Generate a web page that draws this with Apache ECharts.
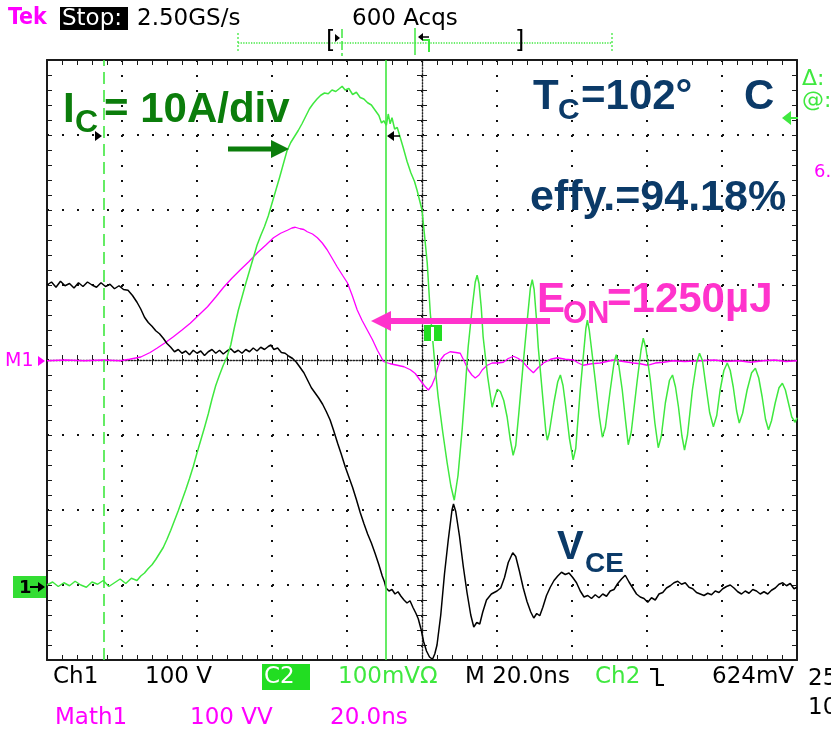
<!DOCTYPE html>
<html>
<head>
<meta charset="utf-8">
<script src="https://cdn.jsdelivr.net/npm/echarts@6/dist/echarts.min.js"></script>
<style>
  html, body { margin: 0; padding: 0; background: #ffffff; }
  #main { width: 831px; height: 730px; }
</style>
</head>
<body>
<div id="main"></div>
<script>
// Turn-on switching waveforms, 20 ns/div, trigger at t = 0 (screen centre).

// Time axis (ns) and graticule divisions
const timeMin = -100, timeMax = 100, timeStep = 20;
const divMin = -4, divMax = 4;

// Ch1: collector-emitter voltage V_CE [V] (100 V/div, ground 3 div below centre)
const vceTrace = [
  [-100,400],[-98.8,404],[-97.6,397],[-96.4,405],[-95.2,399],[-94,402],[-92.8,396],[-91.6,403],[-90.4,398],
  [-89.2,404],[-88,400],[-86.8,397],[-85.6,403],[-84.4,398],[-83.2,401],[-82,395],[-80.8,399],[-79.6,394],
  [-78.4,393],[-77.2,386],[-76,377],[-75,368],[-74,357],[-73,350],[-72,345],[-71,339],[-70,335],[-69,329],
  [-68,322],[-67,317],[-66,311],[-65,314],[-64,309],[-63,312],[-62,307],[-61,313],[-60,309],[-59,312],
  [-58,306],[-57,311],[-56,314],[-55,309],[-54,313],[-53,308],[-52,312],[-51,315],[-50,310],[-49,313],
  [-48,309],[-47,314],[-46,311],[-45,316],[-44,312],[-43,317],[-42,314],[-41,318],[-40.3,320],[-39.5,314],
  [-38.5,316],[-37.5,310],[-36.5,309],[-35.5,305],[-34.5,302],[-33.5,297],[-32.5,290],[-31.5,283],
  [-30.5,273],[-29.5,263],[-28.5,256],[-27.5,249],[-26.5,241],[-25.5,231],[-24.5,220],[-23.5,205],
  [-22.5,189],[-21.5,174],[-20.5,158],[-19.5,144],[-18.5,130],[-17.5,114],[-16.5,97],[-15.5,82],
  [-14.5,68],[-13.5,56],[-12.5,42],[-11.5,27],[-10.6,12],[-10,4],[-9.6,-4],[-8.8,-8],[-8,-6],[-7.2,-12],
  [-6.4,-9],[-5.6,-15],[-4.8,-20],[-4,-24],[-3.2,-21],[-2.4,-30],[-1.6,-38],[-1,-45],[-0.2,-60],[0.4,-75],
  [1.2,-88],[2,-96],[2.8,-99],[3.4,-92],[4,-80],[5,-40],[6,15],[7,60],[8,100],[8.4,108],[9,98],[10,65],
  [11,25],[12,-10],[13,-40],[13.8,-56],[14.6,-50],[15.4,-52],[16.2,-36],[17.2,-20],[18.5,-12],[20,-8],
  [21,-4],[22,10],[23,30],[24.2,43],[25,38],[26,18],[27,-4],[28,-22],[29,-36],[29.8,-44],[30.6,-38],
  [31.4,-41],[32.2,-30],[33.2,-14],[34.2,-3],[35.2,6],[36.2,12],[37.2,17],[38.2,14],[39.2,16],[40.2,10],
  [41.2,3],[42.2,-8],[43.2,-16],[44.2,-14],[45.2,-18],[46.2,-13],[47.2,-17],[48.2,-12],[49.2,-15],
  [50.2,-8],[51.2,-6],[52.2,2],[53.2,8],[54.2,13],[55.2,4],[56.2,-4],[57.2,-12],[58.2,-16],[59.2,-18],
  [60.2,-23],[61.2,-17],[62.2,-20],[63.2,-12],[64.2,-10],[65.2,-4],[66.2,-1],[67.2,3],[68.2,5],[69.2,1],
  [70.2,3],[71.2,-3],[72.2,-5],[73.2,-10],[74.2,-12],[75.2,-14],[76.2,-11],[77.2,-13],[78.2,-8],[79.2,-10],
  [80.2,-5],[81.2,-2],[82.2,0],[83.2,-4],[84.2,-9],[85.2,-12],[86.2,-8],[87.2,-11],[88.2,-6],[89.2,-8],
  [90.2,-12],[91.2,-9],[92.2,-12],[93.2,-7],[94.2,-4],[95.2,1],[96.2,3],[97.2,-1],[98.2,2],[99.2,-5],[100,-3]
];

// Ch2: collector current I_C [A] (10 A/div, ground 3 div below centre)
const icTrace = [
  [-100,0],[-98.5,0.4],[-97,-0.2],[-95.5,0.3],[-94,-0.1],[-92.5,0.5],[-91,0],[-89.5,-0.3],[-88,0.4],
  [-86.5,0.1],[-85,0.6],[-83.5,-0.2],[-82,0.3],[-80.5,0.8],[-79,0.2],[-77.5,0.9],[-76,0.6],[-75,1.2],
  [-74,1.6],[-73,2.2],[-72,2.7],[-71,3.4],[-70,4.2],[-69,5.0],[-68,6.1],[-67,7.3],[-66,8.6],[-65,9.9],
  [-64,11.3],[-63,12.7],[-62,14.2],[-61,15.8],[-60,17.6],[-59,19.3],[-58,21.0],[-57,22.8],[-56,24.8],
  [-55,26.6],[-54,28.0],[-53,29.3],[-52,30.4],[-51,32.0],[-50,34.4],[-49,36.6],[-48,38.4],[-47,40.2],
  [-46,41.9],[-45,43.6],[-44,45.3],[-43,46.6],[-42,47.8],[-41,49.2],[-40,50.9],[-39,52.6],[-38,54.3],
  [-37,56.1],[-36,57.9],[-35,59.0],[-34,59.8],[-33,60.6],[-32,61.5],[-31,62.5],[-30,63.5],[-29,64.2],
  [-28,64.8],[-27,65.3],[-26,65.6],[-25,65.5],[-24,66.0],[-23,65.8],[-22,66.2],[-21.3,66.5],[-20.5,66.0],
  [-19.5,66.2],[-18.5,65.4],[-17.5,65.7],[-16.5,65.0],[-15.5,64.8],[-14.5,64.3],[-13.5,64.0],[-12.5,63.3],
  [-11.5,62.6],[-10.8,61.6],[-10.2,61.9],[-9.5,61.3],[-9.0,62.8],[-8.5,61.5],[-8,62.3],[-7.3,60.8],
  [-6.6,61.0],[-6,60.0],[-5,58.3],[-4,56.5],[-3,55.0],[-2,53.8],[-1.3,52.6],[-0.6,51.2],[0,50],[0.7,46.5],
  [1.4,42.9],[2.2,36.3],[2.7,33.6],[3.5,29.0],[4.3,25.1],[5.5,20.5],[6.7,16.3],[7.7,13.2],[8.6,11.3],
  [9.6,14.6],[10.7,20.7],[11.5,26.0],[12.3,31.7],[13.5,37.5],[14.2,40.4],[14.7,41.3],[15.2,40.2],[15.8,37.0],
  [16.3,33.1],[17.5,27.8],[18.7,23.7],[19.4,25.0],[20.1,26.1],[20.9,25.8],[21.8,24.6],[22.7,22.4],[23.5,19.5],
  [24.3,17.3],[25.0,18.6],[25.8,22.8],[27.0,29.6],[28.2,36.0],[28.9,39.6],[29.4,40.7],[29.9,39.4],[30.5,35.6],
  [31.0,31.7],[32.2,25.0],[33.0,20.6],[33.4,19.3],[33.9,20.2],[35.2,24.4],[36.2,27.1],[36.9,28.0],[37.6,26.6],
  [38.2,24.3],[39.3,19.6],[40.3,16.7],[41.0,18.2],[42.2,26.0],[43.2,31.5],[43.7,34.2],[44.1,35.3],[44.6,34.0],
  [45.2,31.5],[46.2,27.3],[47.3,22.4],[48.1,19.7],[48.9,21.0],[50.2,26.0],[51.2,29.6],[51.8,30.7],[52.5,29.2],
  [53.4,26.0],[54.3,21.8],[55.0,18.7],[55.8,20.4],[57.4,27.3],[58.4,31.3],[59.0,32.9],[59.7,31.6],[60.9,27.3],
  [62.1,21.6],[63.0,18.3],[63.8,19.8],[64.9,24.3],[66.0,27.3],[66.8,28.0],[67.6,26.4],[68.4,23.7],[69.3,19.9],
  [70.0,18.0],[70.8,20.0],[72.1,26.0],[73.2,29.6],[74.0,30.9],[74.8,29.9],[75.5,27.3],[76.7,23.0],[77.7,21.1],
  [78.6,22.6],[79.5,26.0],[80.5,28.6],[81.4,29.6],[82.2,28.6],[83.0,26.4],[83.9,23.2],[84.6,21.6],[85.5,22.9],
  [86.7,26.0],[87.9,28.3],[88.9,28.9],[89.8,27.6],[90.7,25.1],[91.6,22.1],[92.4,20.7],[93.2,21.9],[94.2,24.3],
  [95.2,26.3],[96.1,26.9],[96.9,26.0],[97.7,24.3],[98.6,22.4],[99.5,21.7],[100,22.3]
];

// Math1 = Ch1 x Ch2, instantaneous power [VV] (100 VV/div, zero at centre)
const powerTrace = [
  [-100,-1],[-95,0],[-90,-1],[-85,0],[-80.5,-1],[-78,1],[-75,4],[-72.5,10],[-70.6,16],[-68.5,23],
  [-66.3,31],[-64,40],[-61.8,49],[-59.5,60],[-57.2,71],[-55,84],[-52.9,97],[-50.7,109],[-48.5,120],
  [-46.2,131],[-43.9,143],[-41.7,153],[-39.6,163],[-37.7,169],[-35.9,173],[-34.7,176],[-33.8,177],
  [-32.5,175],[-31.5,174],[-30.6,171],[-29.2,168],[-27.9,163],[-26.6,156],[-25.3,147],[-24,136],
  [-22.6,124],[-21.2,113],[-19.9,103],[-18.6,86],[-17.3,67],[-16,53],[-14.6,40],[-13.2,27],[-11.9,13],
  [-11,5],[-10.3,-2],[-8.5,-5],[-6.6,-7],[-4.8,-9],[-3.1,-13],[-1.8,-18],[-0.5,-27],[0.6,-34],[1.7,-40],
  [2.6,-34],[3.5,-23],[4.2,-10],[4.9,0],[6,7],[7.5,11],[9,10],[10.2,9],[11.3,-2],[12.3,-13],[13.3,-20],
  [14.2,-24],[15.2,-20],[16.1,-13],[17.4,-7],[18.7,-4],[20.2,-4],[21.7,-3],[23,2],[24.4,5],[25.7,2],
  [27,-3],[28.4,-11],[29.7,-17],[31,-10],[32.4,-4],[34.3,1],[36.1,3],[38.2,1],[40.4,0],[41.7,-4],[43,-7],
  [45.2,-5],[47.5,-4],[49.3,-2],[51,0],[53.7,-2],[56.4,-4],[58.2,-5],[60.1,-7],[62.2,-4],[64.4,-3],
  [67,-1],[70,-2],[74.3,-1],[78,0],[81,-2],[84.5,-1],[87.6,-3],[91,-1],[94,0],[97,-2],[100,-1]
];

// Vertical ranges of each channel across the 8 screen divisions
const vceRange = [-100, 700];
const icRange = [-10, 70];
const powerRange = [-400, 400];

// Time cursors [ns]
const cursorDashed = -84.9;
const cursorSolid = -9.8;

// Readout texts
const topTexts = { tek: 'Tek', state: 'Stop:', rate: '2.50GS/s', acqs: '600 Acqs' };
const bottomRow1 = ['Ch1', '100 V', 'C2', '100mV\u03A9', 'M 20.0ns', 'Ch2', '624mV', '25'];
const bottomRow2 = ['Math1', '100 VV', '20.0ns', '10'];

const TRACE_GREEN = '#3fe83f';
const LABEL_GREEN = '#0b7d0b';
const NAVY = '#0b3a68';
const PINK = '#ff33cc';
const MAGENTA = '#ff00ff';
const UI_FONT = "'DejaVu Sans', sans-serif";
const BOLD = "bold {s}px 'Liberation Sans', Arial, sans-serif";
const bold = s => BOLD.replace('{s}', s);

const chart = echarts.init(document.getElementById('main'), null, { renderer: 'canvas' });

const frameColor = '#1a1a1a';
function frameAxisX(position, extra) {
  return Object.assign({
    type: 'value', min: timeMin, max: timeMax, interval: timeStep, position,
    axisLine: { show: true, onZero: false, lineStyle: { color: frameColor, width: 2 } },
    axisTick: { show: true, inside: true, length: 5, lineStyle: { color: frameColor, width: 1 } },
    minorTick: { show: true, splitNumber: 5, length: 5, lineStyle: { color: frameColor, width: 1 } },
    axisLabel: { show: false },
    splitLine: { show: false }
  }, extra || {});
}
function frameAxisY(position, extra) {
  return Object.assign({
    type: 'value', min: divMin, max: divMax, interval: 1, position,
    axisLine: { show: true, onZero: false, lineStyle: { color: frameColor, width: 2 } },
    axisTick: { show: true, inside: true, length: 5, lineStyle: { color: frameColor, width: 1 } },
    minorTick: { show: true, splitNumber: 5, length: 5, lineStyle: { color: frameColor, width: 1 } },
    axisLabel: { show: false },
    splitLine: { show: false }
  }, extra || {});
}
const dotted = { show: true, lineStyle: { color: '#111', width: 2, type: [2, 13] } };
const centreLine = { show: true, onZero: false, lineStyle: { color: '#222', width: 1.4, type: [1.4, 1.6] } };

function txt(text, x, y, font, fill, extra) {
  return Object.assign({
    type: 'text', x, y, z: 100,
    style: { text, font, fill, textAlign: 'left', verticalAlign: 'middle', textVerticalAlign: 'middle' }
  }, extra || {});
}

const graphics = [
  // acquisition status line
  txt(topTexts.tek, 8, 18, "bold 23px 'Liberation Sans Narrow', 'DejaVu Sans Condensed', sans-serif", MAGENTA),
  { type: 'rect', z: 99, shape: { x: 60, y: 7, width: 68, height: 23 }, style: { fill: '#000' } },
  txt(topTexts.state, 62, 19, '23px ' + UI_FONT, '#fff'),
  txt(topTexts.rate, 137, 19, '23px ' + UI_FONT, '#000'),
  txt(topTexts.acqs, 352, 19, '23px ' + UI_FONT, '#000'),
  // record-position ruler
  { type: 'line', z: 99, shape: { x1: 238, y1: 43, x2: 612, y2: 43 }, style: { stroke: TRACE_GREEN, lineWidth: 1.3, lineDash: [1.3, 1.3] } },
  { type: 'line', z: 99, shape: { x1: 238, y1: 33, x2: 238, y2: 53 }, style: { stroke: TRACE_GREEN, lineWidth: 1.3, lineDash: [2, 2] } },
  { type: 'line', z: 99, shape: { x1: 612, y1: 33, x2: 612, y2: 53 }, style: { stroke: TRACE_GREEN, lineWidth: 1.3, lineDash: [2, 2] } },
  txt('[', 326, 42, '24px ' + UI_FONT, '#000'),
  txt(']', 515, 42, '24px ' + UI_FONT, '#000'),
  { type: 'line', z: 99, shape: { x1: 342, y1: 29, x2: 342, y2: 56 }, style: { stroke: TRACE_GREEN, lineWidth: 1.5, lineDash: [9, 3] } },
  { type: 'polygon', z: 100, shape: { points: [[335, 34], [340, 38], [335, 42]] }, style: { fill: '#000' } },
  { type: 'line', z: 99, shape: { x1: 415, y1: 28, x2: 415, y2: 55 }, style: { stroke: TRACE_GREEN, lineWidth: 1.5 } },
  { type: 'polygon', z: 100, shape: { points: [[418, 37], [423, 33], [423, 41]] }, style: { fill: '#000' } },
  { type: 'line', z: 100, shape: { x1: 422, y1: 37, x2: 429, y2: 37 }, style: { stroke: '#000', lineWidth: 1.5 } },
  { type: 'polyline', z: 100, shape: { points: [[423, 40], [429, 40], [429, 52]] }, style: { stroke: TRACE_GREEN, lineWidth: 2, fill: null } },

  // channel reference markers on the left edge
  txt('M1', 5, 361, '19px ' + UI_FONT, MAGENTA),
  { type: 'polygon', z: 100, shape: { points: [[38, 356], [45, 361], [38, 366]] }, style: { fill: MAGENTA } },
  { type: 'rect', z: 99, shape: { x: 13, y: 576, width: 33, height: 22 }, style: { fill: '#33dd33' } },
  txt('1', 19, 588, 'bold 18px ' + UI_FONT, '#000'),
  { type: 'line', z: 100, shape: { x1: 30, y1: 587, x2: 41, y2: 587 }, style: { stroke: '#000', lineWidth: 2 } },
  { type: 'polygon', z: 100, shape: { points: [[38, 582], [45, 587], [38, 592]] }, style: { fill: '#000' } },

  // trigger-level marker inside the screen
  { type: 'rect', z: 100, shape: { x: 424, y: 325, width: 18, height: 16 }, style: { fill: '#22dd22' } },
  { type: 'rect', z: 101, shape: { x: 431, y: 327, width: 3, height: 14 }, style: { fill: '#fff' } },

  // cursor readout pointers
  { type: 'polygon', z: 100, shape: { points: [[95, 131], [102, 136], [95, 141]] }, style: { fill: '#000' } },
  { type: 'polygon', z: 100, shape: { points: [[387, 136], [394, 131], [394, 141]] }, style: { fill: '#000' } },
  { type: 'line', z: 100, shape: { x1: 394, y1: 136, x2: 400, y2: 136 }, style: { stroke: '#000', lineWidth: 1.5 } },

  // right-hand readouts
  txt('\u0394:', 802, 79, '22px ' + UI_FONT, TRACE_GREEN),
  txt('@:', 802, 101, '22px ' + UI_FONT, TRACE_GREEN),
  { type: 'polygon', z: 100, shape: { points: [[782, 118], [791, 111], [791, 125]] }, style: { fill: TRACE_GREEN } },
  { type: 'line', z: 100, shape: { x1: 790, y1: 118, x2: 798, y2: 118 }, style: { stroke: TRACE_GREEN, lineWidth: 2 } },
  txt('6.', 814, 172, '18px ' + UI_FONT, MAGENTA),

  // bottom readouts
  txt(bottomRow1[0], 53, 677, '23px ' + UI_FONT, '#000'),
  txt(bottomRow1[1], 145, 677, '23px ' + UI_FONT, '#000'),
  { type: 'rect', z: 99, shape: { x: 262, y: 664, width: 48, height: 26 }, style: { fill: '#22dd22' } },
  txt(bottomRow1[2], 264, 677, '23px ' + UI_FONT, '#fff'),
  txt(bottomRow1[3], 338, 677, '23px ' + UI_FONT, TRACE_GREEN),
  txt(bottomRow1[4], 465, 677, '23px ' + UI_FONT, '#000'),
  txt(bottomRow1[5], 595, 677, '23px ' + UI_FONT, TRACE_GREEN),
  { type: 'polyline', z: 100, shape: { points: [[650, 669], [657, 669], [657, 685], [664, 685]] }, style: { stroke: '#000', lineWidth: 2.2, fill: null } },
  txt(bottomRow1[6], 712, 677, '23px ' + UI_FONT, '#000'),
  txt(bottomRow1[7], 808, 679, '23px ' + UI_FONT, '#000'),
  txt(bottomRow2[0], 55, 718, '23px ' + UI_FONT, MAGENTA),
  txt(bottomRow2[1], 190, 718, '23px ' + UI_FONT, MAGENTA),
  txt(bottomRow2[2], 330, 718, '23px ' + UI_FONT, MAGENTA),
  txt(bottomRow2[3], 808, 708, '23px ' + UI_FONT, '#000'),

  // annotations
  txt('I', 63, 110, bold(42), LABEL_GREEN),
  txt('C', 75, 123, bold(32), LABEL_GREEN),
  txt('= 10A/div', 104, 110, bold(42), LABEL_GREEN),
  { type: 'rect', z: 100, shape: { x: 228, y: 146.5, width: 46, height: 5 }, style: { fill: LABEL_GREEN } },
  { type: 'polygon', z: 100, shape: { points: [[271, 140], [289, 149], [271, 158]] }, style: { fill: LABEL_GREEN } },

  txt('T', 533, 97, bold(42), NAVY),
  txt('C', 558, 111, bold(30), NAVY),
  txt('=102\u00B0', 581, 97, bold(42), NAVY),
  txt('C', 744, 97, bold(42), NAVY),
  txt('effy.=94.18%', 530, 198, bold(43), NAVY),

  txt('E', 537, 300, bold(42), PINK),
  txt('ON', 563, 314, bold(31), PINK),
  txt('=1250\u00B5J', 607, 300, bold(42), PINK),
  { type: 'rect', z: 100, shape: { x: 386, y: 318, width: 164, height: 6 }, style: { fill: PINK } },
  { type: 'polygon', z: 100, shape: { points: [[371, 321], [391, 311], [391, 331]] }, style: { fill: PINK } },

  txt('V', 557, 548, bold(40), NAVY),
  txt('CE', 585, 564, bold(28), NAVY)
];

const option = {
  animation: false,
  backgroundColor: '#ffffff',
  grid: { left: 47, top: 60, width: 750, height: 600, containLabel: false },
  xAxis: [
    frameAxisX('bottom', { splitLine: dotted }),
    frameAxisX('top'),
    frameAxisX('bottom', { offset: -300, axisLine: centreLine }),
    frameAxisX('bottom', { offset: -300, axisLine: { show: false }, axisTick: { show: true, inside: false, length: 5, lineStyle: { color: frameColor } } })
  ],
  yAxis: [
    frameAxisY('left', { splitLine: dotted }),
    frameAxisY('right'),
    frameAxisY('left', { offset: -375, axisLine: centreLine }),
    frameAxisY('left', { offset: -375, axisLine: { show: false }, axisTick: { show: true, inside: false, length: 5, lineStyle: { color: frameColor } } }),
    { type: 'value', show: false, min: vceRange[0], max: vceRange[1] },
    { type: 'value', show: false, min: icRange[0], max: icRange[1] },
    { type: 'value', show: false, min: powerRange[0], max: powerRange[1] }
  ],
  series: [
    {
      name: 'Math1', type: 'line', xAxisIndex: 0, yAxisIndex: 6, data: powerTrace,
      showSymbol: false, symbol: 'none', lineStyle: { color: MAGENTA, width: 1.3 }, z: 3
    },
    {
      name: 'V_CE', type: 'line', xAxisIndex: 0, yAxisIndex: 4, data: vceTrace,
      showSymbol: false, symbol: 'none', lineStyle: { color: '#000', width: 1.5 }, z: 4
    },
    {
      name: 'I_C', type: 'line', xAxisIndex: 0, yAxisIndex: 5, data: icTrace,
      showSymbol: false, symbol: 'none', lineStyle: { color: TRACE_GREEN, width: 1.5 }, z: 5,
      markLine: {
        silent: true, symbol: ['none', 'none'], label: { show: false },
        lineStyle: { color: TRACE_GREEN, width: 1.6 },
        data: [
          { xAxis: cursorDashed, lineStyle: { type: [12, 6], color: TRACE_GREEN, width: 1.6 } },
          { xAxis: cursorSolid, lineStyle: { type: 'solid', color: TRACE_GREEN, width: 1.6 } }
        ]
      }
    }
  ],
  graphic: graphics
};

chart.setOption(option);
</script>
</body>
</html>
